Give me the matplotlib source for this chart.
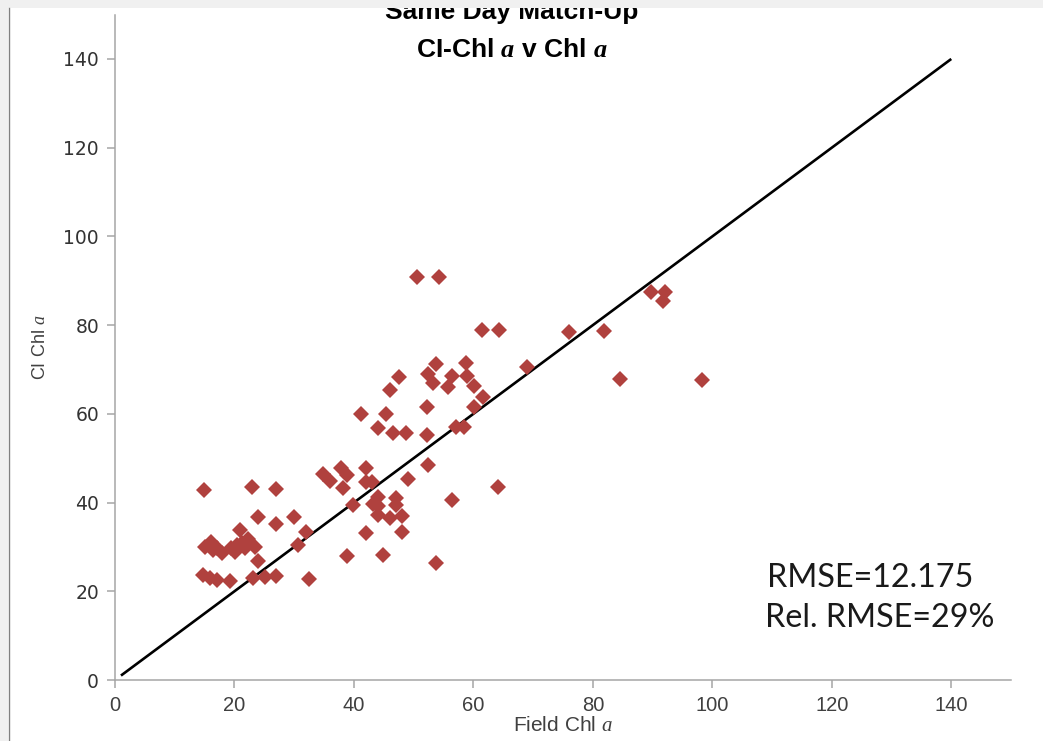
import matplotlib
matplotlib.use("Agg")
import matplotlib.pyplot as plt
from matplotlib.patches import Rectangle
from matplotlib.lines import Line2D

# Same-day match-ups: field-measured chlorophyll a vs. CI-derived chlorophyll a
field_chl = [
    14.9, 22.9, 26.9, 23.9, 30.0, 26.9, 20.9, 32.0, 30.7, 15.1,
    16.0, 17.0, 17.9, 16.4, 19.5, 20.4, 21.2, 22.3, 23.4, 20.1,
    21.8, 24.0, 14.8, 15.9, 17.0, 19.2, 23.1, 25.1, 26.9, 32.5,
    34.9, 36.0, 37.9, 38.9, 38.2, 42.0, 42.0, 43.1, 39.9, 44.1,
    47.0, 43.2, 44.1, 47.0, 44.1, 46.0, 48.1, 42.0, 48.1, 38.9,
    44.9, 53.8, 52.4, 49.1, 56.5, 64.2, 50.5, 54.2, 61.4, 64.3,
    68.9, 53.7, 58.7, 52.4, 56.5, 59.0, 47.6, 53.3, 55.7, 60.1,
    46.1, 61.6, 60.1, 52.3, 41.1, 45.4, 44.0, 46.5, 48.8, 52.3,
    57.1, 58.4, 76.0, 81.9, 84.5, 98.2, 89.8, 92.0, 91.8,
]
ci_chl = [
    42.8, 43.4, 43.0, 36.8, 36.8, 35.2, 33.8, 33.3, 30.4, 30.0,
    31.1, 29.7, 28.6, 29.3, 29.7, 30.4, 30.8, 31.8, 30.0, 28.9,
    29.7, 26.9, 23.7, 22.9, 22.5, 22.4, 22.9, 23.3, 23.4, 22.8,
    46.4, 44.9, 47.7, 46.2, 43.3, 47.7, 44.7, 44.7, 39.5, 41.3,
    41.0, 39.7, 39.3, 39.5, 37.2, 36.5, 37.0, 33.1, 33.4, 28.0,
    28.2, 26.3, 48.5, 45.4, 40.6, 43.4, 90.8, 90.8, 78.9, 78.9,
    70.6, 71.2, 71.5, 69.0, 68.5, 68.5, 68.4, 66.9, 66.0, 66.3,
    65.4, 63.7, 61.6, 61.6, 59.9, 59.9, 56.7, 55.6, 55.6, 55.2,
    57.1, 57.1, 78.5, 78.7, 67.9, 67.6, 87.5, 87.5, 85.4,
]
one_to_one = [1, 140]
axis_ticks = [0, 20, 40, 60, 80, 100, 120, 140]
title_lines = ["Same Day Match-Up", r"CI-Chl $\mathbf{a}$ v Chl $\mathbf{a}$"]
stats_lines = ["RMSE=12.175", "Rel. RMSE=29%"]

plt.rcParams["mathtext.fontset"] = "custom"
plt.rcParams["mathtext.it"] = "Liberation Serif:italic"
plt.rcParams["mathtext.bf"] = "Liberation Serif:italic:bold"
plt.rcParams["mathtext.rm"] = "Liberation Sans"

narrow = ["Liberation Sans Narrow", "Liberation Sans", "DejaVu Sans"]

W, H = 1043, 741
fig = plt.figure(figsize=(W / 100, H / 100), dpi=100)
fig.patch.set_facecolor("white")

ax = fig.add_axes([115 / W, 1 - 680 / H, (1011 - 115) / W, (680 - 14.6) / H])
ax.set_xlim(0, 150)
ax.set_ylim(0, 150)

ax.plot(one_to_one, one_to_one, color="black", lw=1.9, zorder=2,
        solid_capstyle="butt")
ax.plot(field_chl, ci_chl, linestyle="none", marker="D", markersize=8.3,
        color="#b0413e", markeredgewidth=0, zorder=3)

for side in ("top", "right"):
    ax.spines[side].set_visible(False)
for side in ("left", "bottom"):
    ax.spines[side].set_color("#a6a6a6")
    ax.spines[side].set_linewidth(1.1)

ax.set_xticks(axis_ticks)
ax.set_yticks(axis_ticks)
ax.tick_params(axis="both", direction="out", length=5.5, width=1.1,
               color="#a6a6a6")
ax.tick_params(axis="y", pad=6, labelsize=13.5, labelcolor="#333333")
ax.tick_params(axis="x", pad=6, labelcolor="#404040")
for lab in ax.get_xticklabels():
    lab.set_fontfamily(narrow)
    lab.set_fontsize(14.5)

ax.set_xlabel(r"Field Chl $\mathit{a}$", family=narrow, fontsize=15,
              color="#404040", labelpad=1)
ax.set_ylabel(r"CI Chl $\mathit{a}$", family=narrow, fontsize=13,
              color="#404040", labelpad=10)

# stats annotation
ax.text(109.1, 21.0, stats_lines[0], family=["Lato", "DejaVu Sans"],
        fontsize=23.3, va="baseline", ha="left", color="#1a1a1a")
ax.text(108.8, 11.9, stats_lines[1], family=["Lato", "DejaVu Sans"],
        fontsize=23.3, va="baseline", ha="left", color="#1a1a1a")

# two-line title, top line partly cut off by the window frame
fig.text(512 / W, 1 - 19 / H, title_lines[0], family=narrow,
         fontweight="bold", fontsize=19, ha="center", va="baseline")
fig.text(512 / W, 1 - 57 / H, title_lines[1], family=narrow,
         fontweight="bold", fontsize=19, ha="center", va="baseline")

# window frame around the chart area
fig.add_artist(Rectangle((0, 1 - 7.5 / H), 1, 7.5 / H, transform=fig.transFigure,
                         facecolor="#f0f0f0", edgecolor="none", zorder=20))
fig.add_artist(Rectangle((0, 0), 8 / W, 1, transform=fig.transFigure,
                         facecolor="#f0f0f0", edgecolor="none", zorder=20))
fig.add_artist(Line2D([8.5 / W, 8.5 / W], [0, 1 - 7.5 / H],
                      transform=fig.transFigure, color="#808080", lw=1.0,
                      zorder=21))

fig.savefig("out.png", dpi=100, facecolor=fig.get_facecolor())
